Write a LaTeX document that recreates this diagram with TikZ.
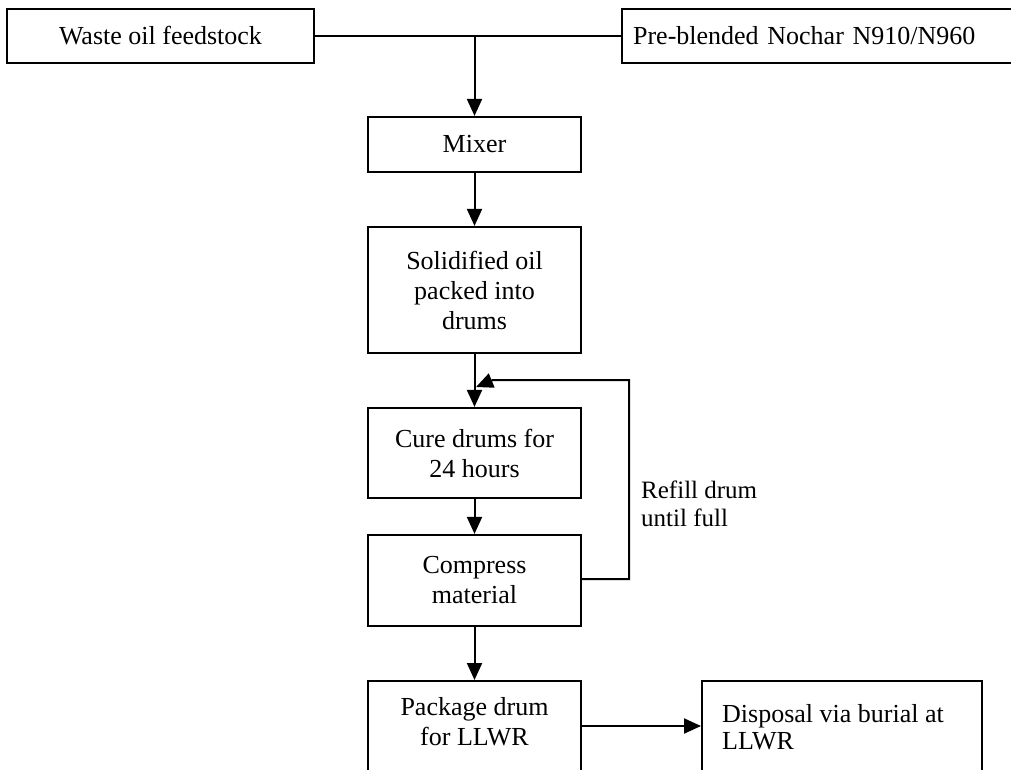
\documentclass[tikz,border=0pt]{standalone}
\usepackage{fontspec}
\setmainfont{Liberation Serif}
\usetikzlibrary{arrows.meta}
\tikzset{
  box/.style={draw, line width=2.2pt, inner sep=0pt, align=center,
    font=\fontsize{26}{30}\selectfont},
  txt/.style={inner sep=0pt, font=\fontsize{26}{30}\selectfont},
  conn/.style={line width=2pt},
  arr/.style={conn, -{Triangle[width=15pt,length=17pt]}},
}
\begin{document}
\begin{tikzpicture}[x=1pt,y=-1pt]
\useasboundingbox (0,0) rectangle (1011,769);
\clip (0,0) rectangle (1011,769);
% top row
\node[box, minimum width=307, minimum height=54] (waste) at (160.5,36) {Waste oil feedstock};
\node[box, anchor=west, text width=398, inner xsep=11pt, align=left, minimum height=54] (pre) at (621,36) {Pre-blended Nochar N910/N960};
\coordinate (join) at (474.5,36);
% main column
\node[box, minimum width=213, minimum height=55] (mixer) at (474.5,144.5) {Mixer};
\node[box, minimum width=213, minimum height=126] (solid) at (474.5,290) {Solidified oil\\packed into\\drums};
\node[box, minimum width=213, minimum height=90] (cure) at (474.5,453) {Cure drums for\\24 hours};
\node[box, minimum width=213, minimum height=91] (comp) at (474.5,580.5) {Compress\\material};
\node[box, anchor=north, minimum width=213, minimum height=130] (pack) at (474.5,680) {};
\node[txt, anchor=north, align=center] (packtxt) at (474.5,697) {Package drum\\for LLWR};
\node[box, anchor=north west, minimum width=280, minimum height=130] (disp) at (701,680) {};
\node[txt, anchor=north west, align=left, font=\fontsize{26}{27}\selectfont] (disptxt) at (722,704) {Disposal via burial at\\LLWR};
\node[txt, anchor=north west, align=left, font=\fontsize{25}{28}\selectfont] (refill) at (641,481) {Refill drum\\until full};
% connectors
\draw[conn] (waste.east) -- (pre.west);
\draw[arr] (join) -- (mixer.north);
\draw[arr] (mixer.south) -- (solid.north);
\draw[arr] (solid.south) -- (cure.north);
\draw[arr] (cure.south) -- (comp.north);
\draw[arr] (comp.south) -- (pack.north);
\coordinate (loopy) at (0,380);
\coordinate (loopx) at (629,0);
\coordinate (tip) at (476,387);
\draw[arr] (comp.east |- 0,579) -- (loopx |- 0,579) -- (loopx |- loopy) -- (493,380) -- (tip);
\coordinate (py) at (0,726);
\draw[arr] (pack.east |- py) -- (disp.west |- py);
\end{tikzpicture}
\end{document}
